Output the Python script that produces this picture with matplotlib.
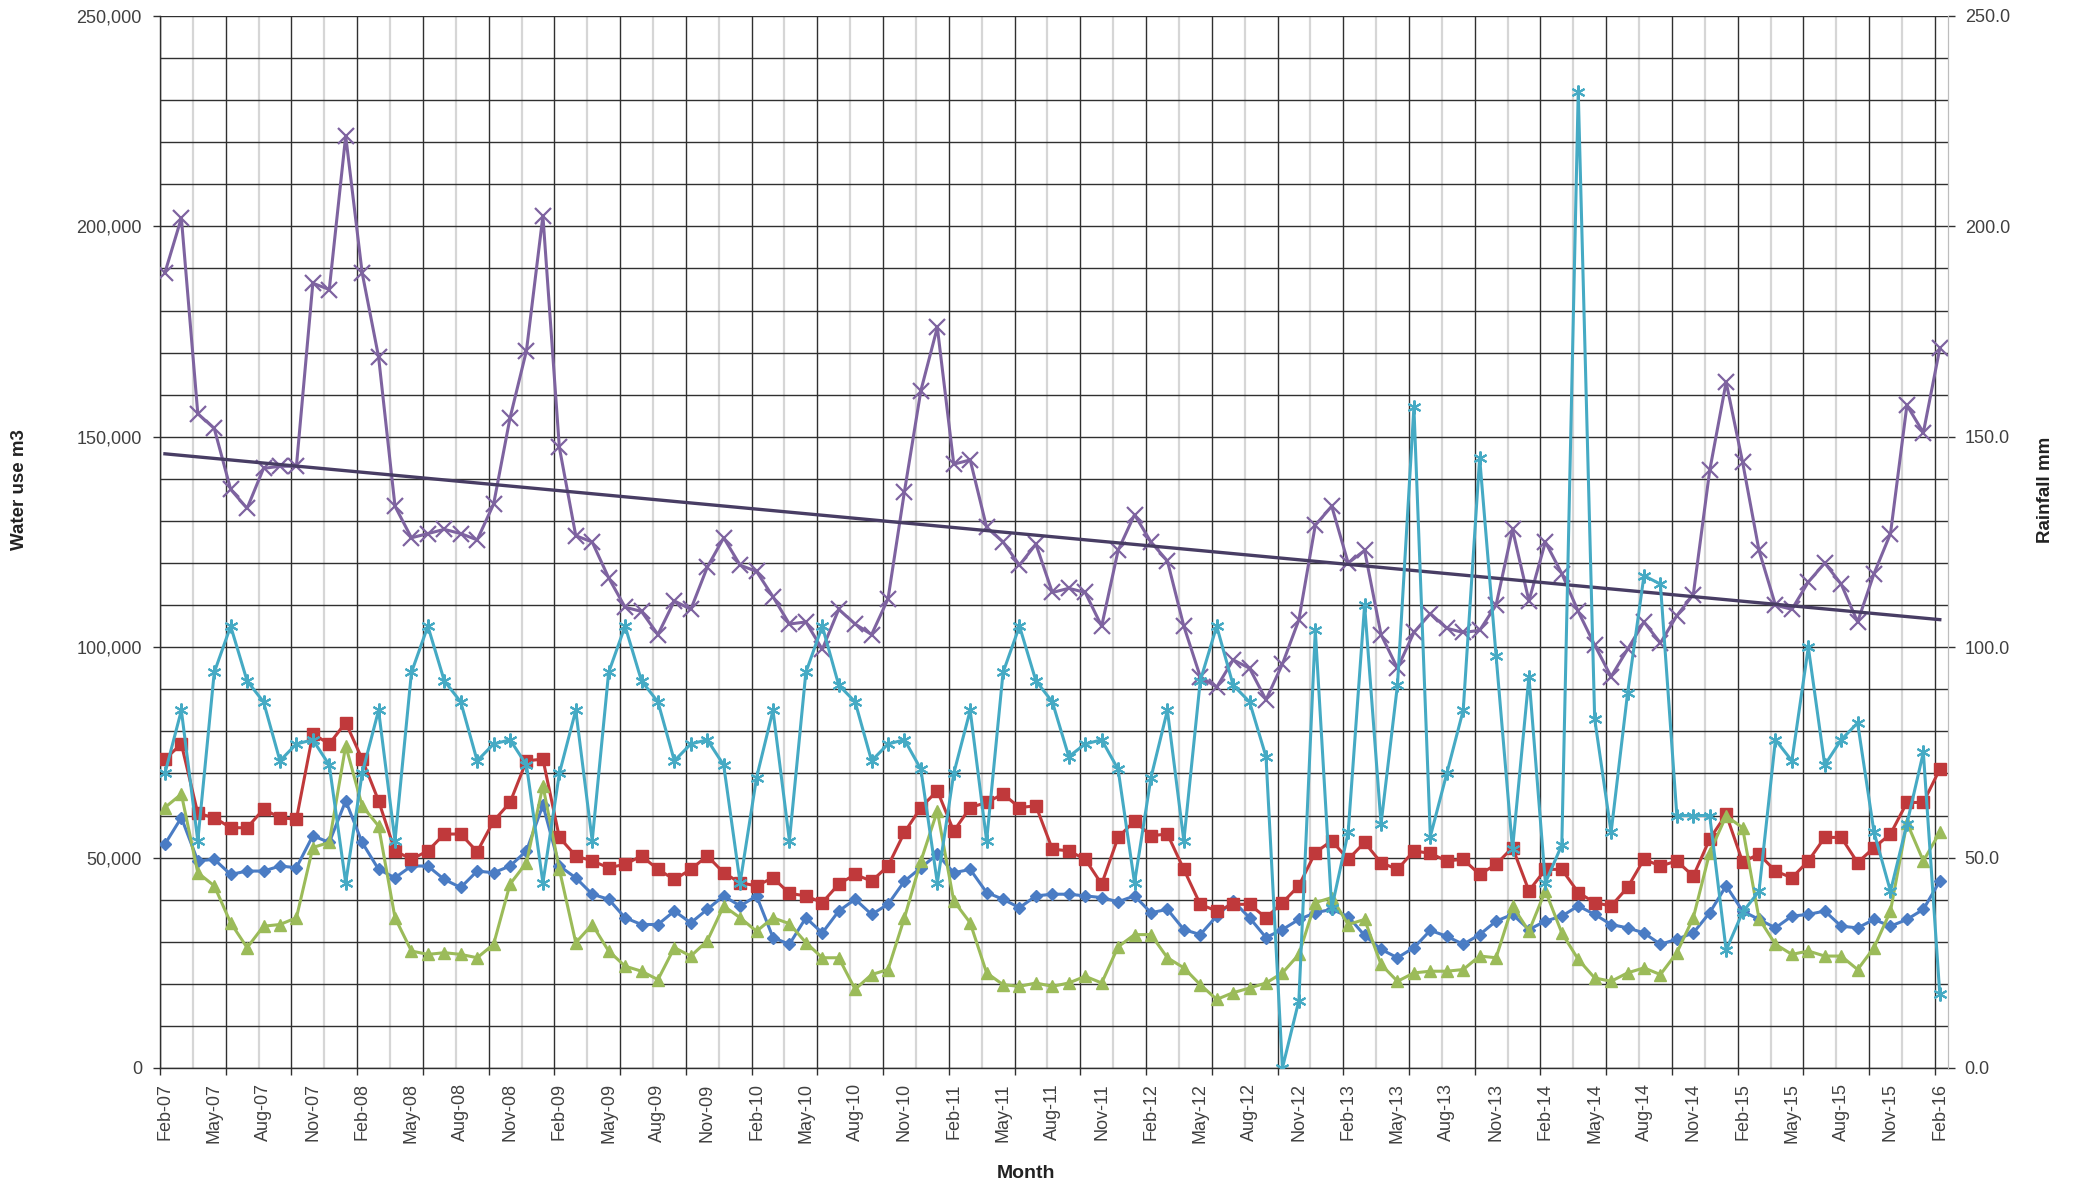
import numpy as np
import pandas as pd
import matplotlib
matplotlib.use("Agg")
import matplotlib.pyplot as plt
from matplotlib.ticker import MultipleLocator, FuncFormatter

plt.rcParams['font.family'] = ['Liberation Sans', 'DejaVu Sans']

# ---------------- data (values in thousands of m3 / mm) ----------------
dates = pd.date_range("2007-02-01", "2016-02-01", freq="MS")
month_labels = [d.strftime("%b-%y") for d in dates]

blue_k = [53.2, 59.5, 49.2, 49.6, 46.0, 46.8, 46.8, 48.0, 47.6, 55.2, 53.6, 63.5, 53.6, 47.2, 45.2, 48.0, 48.0, 44.8, 42.9, 46.8,
          46.4, 48.0, 51.6, 62.5, 48.0, 45.2, 41.3, 40.1, 35.7, 34.1, 34.1, 37.3, 34.5, 37.7, 40.9, 38.5, 40.9, 31.0, 29.4, 35.7,
          32.1, 37.3, 40.1, 36.5, 38.9, 44.4, 47.6, 50.8, 46.4, 47.2, 41.7, 40.1, 38.1, 40.9, 41.3, 41.3, 40.9, 40.5, 39.5, 40.9,
          36.9, 37.7, 32.9, 31.7, 36.1, 39.7, 35.7, 31.0, 32.9, 35.3, 36.9, 37.7, 36.0, 31.5, 28.2, 26.2, 28.6, 32.7, 31.3, 29.4,
          31.7, 34.9, 36.5, 32.9, 34.9, 36.1, 38.5, 36.5, 34.1, 33.3, 32.1, 29.4, 30.6, 32.1, 36.9, 43.3, 37.3, 35.3, 33.3, 36.1,
          36.5, 37.3, 33.7, 33.3, 35.3, 33.7, 35.3, 37.7, 44.4]

red_k = [73.4, 77.0, 60.5, 59.5, 57.1, 57.1, 61.5, 59.5, 59.1, 79.4, 77.0, 82.1, 73.4, 63.5, 51.6, 49.6, 51.6, 55.6, 55.6, 51.4,
         58.7, 63.1, 73.0, 73.4, 54.8, 50.4, 49.2, 47.6, 48.4, 50.4, 47.2, 44.8, 47.2, 50.4, 46.4, 44.0, 43.3, 45.2, 41.5, 40.9,
         39.3, 43.7, 46.0, 44.4, 48.0, 56.0, 61.9, 65.9, 56.3, 61.9, 63.1, 65.1, 61.9, 62.3, 52.0, 51.6, 49.6, 43.7, 54.8, 58.7,
         55.2, 55.6, 47.2, 38.9, 37.3, 38.9, 38.9, 35.7, 39.3, 43.3, 51.2, 54.0, 49.6, 53.6, 48.8, 47.2, 51.6, 51.0, 49.2, 49.6,
         46.0, 48.4, 52.4, 42.1, 47.2, 47.2, 41.7, 39.3, 38.5, 42.9, 49.6, 48.0, 49.2, 45.6, 54.4, 60.3, 49.0, 50.8, 46.8, 45.2,
         49.2, 54.8, 54.8, 48.8, 52.4, 55.6, 63.1, 63.1, 71.0]

green_k = [61.9, 65.1, 46.4, 43.3, 34.5, 28.6, 33.7, 34.1, 35.7, 52.4, 53.6, 76.6, 62.3, 57.5, 35.7, 27.8, 27.0, 27.4, 27.0, 26.2,
           29.4, 43.7, 48.8, 67.1, 47.2, 29.8, 34.1, 27.8, 24.2, 23.0, 21.0, 28.6, 26.6, 30.2, 38.5, 35.7, 32.5, 35.7, 34.3, 29.8,
           26.2, 26.2, 18.7, 22.2, 23.4, 35.7, 49.2, 61.1, 39.7, 34.5, 22.6, 19.8, 19.4, 20.2, 19.4, 20.2, 21.8, 20.2, 28.8, 31.7,
           31.7, 26.2, 23.8, 19.8, 16.3, 17.9, 19.0, 20.2, 22.6, 27.0, 39.3, 40.5, 34.1, 35.3, 24.6, 20.6, 22.6, 23.0, 23.0, 23.4,
           26.6, 26.2, 38.5, 32.5, 42.1, 32.1, 25.8, 21.4, 20.6, 22.6, 23.8, 22.2, 27.4, 35.7, 51.2, 59.9, 57.1, 35.5, 29.4, 27.0,
           27.8, 26.6, 26.6, 23.4, 28.6, 37.3, 58.3, 49.2, 56.0]

purple_k = [189, 202, 155.5, 152, 137.5, 133, 142.5, 143, 143, 186.5, 185, 221.5, 189, 169, 133.5, 126, 127, 128, 127, 125.5,
            134, 154.5, 170.5, 202.5, 147.5, 126.5, 125, 116.5, 109.5, 108.5, 103, 111, 109, 119, 126, 119.5, 118, 112, 105.5, 106,
            99.5, 109, 105.5, 103, 111.5, 137, 161, 176, 143.5, 144.5, 128.5, 125, 119.5, 124.5, 113, 114, 113, 105, 123, 131.5,
            125, 120.5, 105, 93, 90.5, 97, 95, 87.5, 96, 106.5, 129, 133.5, 120, 123, 103, 95, 103.5, 108, 104.5, 103.5,
            104, 110, 128, 111, 125, 117.5, 108.5, 100.5, 93, 99.5, 106, 101, 107.5, 112.5, 142, 163, 144, 123, 110, 109,
            115.5, 120, 115, 106, 117.5, 127, 157.5, 151, 171]

rain_mm = [70, 85, 54, 94, 105, 92, 87, 73, 77, 78, 72, 44,
           70, 85, 54, 94, 105, 92, 87, 73, 77, 78, 72, 44,
           70, 85, 54, 94, 105, 92, 87, 73, 77, 78, 72, 44,
           69, 85, 54, 94, 105, 91, 87, 73, 77, 78, 71, 44,
           70, 85, 54, 94, 105, 92, 87, 74, 77, 78, 71, 44,
           69, 85, 54, 92, 105, 91, 87, 74,
           0, 16, 104, 38, 56, 110, 58, 91, 157, 55, 70, 85, 145, 98, 52, 93, 44, 53, 232, 83, 56, 89,
           117, 115, 60, 60, 60, 28, 37, 42, 78, 73, 100, 72, 78, 82, 56, 42, 58, 75, 17.5]

C_BLUE = "#4A7CC4"
C_RED = "#C0393B"
C_GREEN = "#9BBB59"
C_PURPLE = "#7E63A0"
C_CYAN = "#45AAC4"
C_TREND = "#483D64"

# ---------------- figure ----------------
W, H = 2076, 1186
fig = plt.figure(figsize=(W / 100, H / 100), dpi=100)
L, R, T, B = 160, 1948, 16, 1068
ax = fig.add_axes([L / W, 1 - B / H, (R - L) / W, (B - T) / H])

x = np.arange(len(dates))
to_m3 = lambda v: np.asarray(v, dtype=float) * 1000

# grid: light vertical lines every 2 months (between darker ones)
for p in np.arange(2, len(x), 4) - 0.3:
    ax.axvline(p, color="#d6d6d6", lw=1.6, zorder=0.5)

ax.plot(x, to_m3(blue_k), color=C_BLUE, lw=2.2, marker="D", ms=6.5, zorder=3)
ax.plot(x, to_m3(red_k), color=C_RED, lw=2.2, marker="s", ms=9, zorder=3)
ax.plot(x, to_m3(green_k), color=C_GREEN, lw=2.2, marker="^", ms=8.5, zorder=3)
ax.plot(x, to_m3(purple_k), color=C_PURPLE, lw=2.2, marker="x", ms=11, mew=1.6, zorder=3)

coef = np.polyfit(x, to_m3(purple_k), 1)
ax.plot(x, np.polyval(coef, x), color=C_TREND, lw=2.4, zorder=4)

ax.set_xlim(-0.3, 108.5)
ax.set_ylim(0, 250000)
ax.yaxis.set_major_locator(MultipleLocator(50000))
ax.yaxis.set_minor_locator(MultipleLocator(10000))
ax.yaxis.set_major_formatter(FuncFormatter(lambda v, p: f"{v:,.0f}"))
ax.grid(which="both", axis="y", color="#303030", lw=1.0, zorder=1)

ax.set_xticks(np.arange(0, len(x), 4) - 0.3, minor=True)
ax.grid(which="minor", axis="x", color="#303030", lw=1.0, zorder=1)
ax.set_xticks(x[::3])
ax.set_xticklabels(month_labels[::3], rotation=90)
ax.tick_params(axis="x", which="major", length=0, pad=11, labelsize=13, labelcolor="#404040")
ax.tick_params(axis="x", which="minor", length=5, width=1.0, color="#303030")
ax.tick_params(axis="y", which="major", length=5, width=1.0, color="#303030", pad=8,
               labelsize=13, labelcolor="#404040")
ax.tick_params(axis="y", which="minor", length=0)
ax.set_axisbelow(True)

for s in ["left", "bottom"]:
    ax.spines[s].set_color("#303030")
    ax.spines[s].set_linewidth(1.0)
ax.spines["top"].set_visible(False)
ax.spines["right"].set_color("#bdbdbd")

ax2 = ax.twinx()
ax2.plot(x, rain_mm, color=C_CYAN, lw=2.2, marker=(6, 2, 0), ms=10, mew=1.5, zorder=3)
ax2.set_ylim(0, 250)
ax2.yaxis.set_major_locator(MultipleLocator(50))
ax2.yaxis.set_major_formatter(FuncFormatter(lambda v, p: f"{v:.1f}"))
ax2.tick_params(axis="y", length=5, width=1.0, color="#303030", pad=7, labelsize=13, labelcolor="#404040")
for s in ["left", "bottom", "top"]:
    ax2.spines[s].set_visible(False)
ax2.spines["right"].set_color("#bdbdbd")

fig.text(20 / W, 1 - 490 / H, "Water use m3", rotation=90, ha="center", va="center",
         fontsize=13.5, fontweight="bold", color="#222222")
fig.text(2045 / W, 1 - 490 / H, "Rainfall mm", rotation=90, ha="center", va="center",
         fontsize=13.5, fontweight="bold", color="#222222")
fig.text(1026 / W, 1 - 1173 / H, "Month", ha="center", va="center",
         fontsize=14, fontweight="bold", color="#222222")

fig.savefig("out.png", dpi=100)
